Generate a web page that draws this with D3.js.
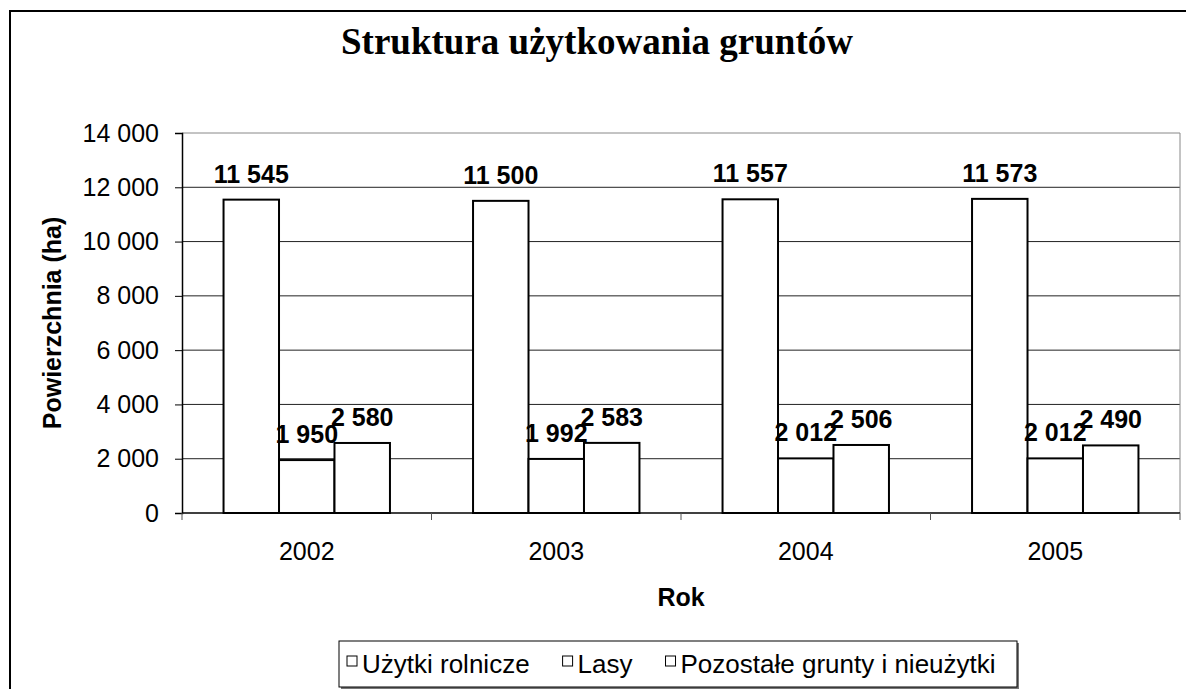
<!DOCTYPE html>
<html>
<head>
<meta charset="utf-8">
<script src="https://cdn.jsdelivr.net/npm/d3@7"></script>
<style>
  body { margin: 0; background: #fff; }
  text { font-family: "Liberation Sans", Arial, sans-serif; }
</style>
</head>
<body>
<div id="canvas"></div>
<script>
const years = ["2002", "2003", "2004", "2005"];
const seriesNames = ["Użytki rolnicze", "Lasy", "Pozostałe grunty i nieużytki"];
const uzytki = [11545, 11500, 11557, 11573];
const lasy = [1950, 1992, 2012, 2012];
const pozostale = [2580, 2583, 2506, 2490];
const yTicks = [0, 2000, 4000, 6000, 8000, 10000, 12000, 14000];

const seriesValues = [uzytki, lasy, pozostale];

const width = 1186, height = 689;
const svg = d3.select("#canvas").append("svg")
            .attr("width", width)
            .attr("height", height);

// outer frame (runs off the right and bottom edge)
svg.append("path")
   .attr("d", `M10,${height + 5} L10,11 L${width + 5},11`)
   .attr("fill", "none")
   .attr("stroke", "#000")
   .attr("stroke-width", 2);

svg.append("text")
   .attr("x", 597)
   .attr("y", 54)
   .attr("text-anchor", "middle")
   .style("font-family", "'Liberation Serif', 'Times New Roman', serif")
   .style("font-weight", "bold")
   .style("font-size", "37px")
   .text("Struktura użytkowania gruntów");

const margin = { top: 133, left: 182 };
const graphWidth = 1180 - margin.left;
const graphHeight = 513 - margin.top;

const graph = svg.append("g")
                .attr("transform", `translate(${margin.left},${margin.top})`);

const y = d3.scaleLinear()
            .domain([0, 14000])
            .range([graphHeight, 0]);

const x = d3.scaleBand()
            .domain(years)
            .range([0, graphWidth]);

const xInner = d3.scaleBand()
            .domain(d3.range(seriesNames.length))
            .range([x.bandwidth() * 0.1665, x.bandwidth() * 0.8335]);

const locale = d3.formatLocale({ decimal: ",", thousands: " ", grouping: [3], currency: ["", ""] });
const fmt = locale.format(",d");

// gridlines
graph.selectAll("line.grid")
    .data(yTicks.filter(t => t > 0))
    .enter().append("line")
    .attr("class", "grid")
    .attr("x1", 0)
    .attr("x2", graphWidth)
    .attr("y1", d => y(d))
    .attr("y2", d => y(d))
    .attr("stroke", d => d === 14000 ? "#888" : "#222")
    .attr("stroke-width", 1);

// right border of plot area
graph.append("line")
    .attr("x1", graphWidth).attr("x2", graphWidth)
    .attr("y1", 0).attr("y2", graphHeight)
    .attr("stroke", "#888");

// bars
const groups = graph.selectAll("g.year")
    .data(years)
    .enter().append("g")
    .attr("class", "year")
    .attr("transform", d => `translate(${x(d)},0)`);

groups.selectAll("rect")
    .data((d, i) => seriesValues.map((vals, s) => ({ s: s, v: vals[i] })))
    .enter().append("rect")
    .attr("x", d => xInner(d.s))
    .attr("width", xInner.bandwidth())
    .attr("y", d => y(d.v))
    .attr("height", d => graphHeight - y(d.v))
    .attr("fill", "#fff")
    .attr("stroke", "#000")
    .attr("stroke-width", 2);

groups.selectAll("text.lbl")
    .data((d, i) => seriesValues.map((vals, s) => ({ s: s, v: vals[i] })))
    .enter().append("text")
    .attr("class", "lbl")
    .attr("x", d => xInner(d.s) + xInner.bandwidth() / 2)
    .attr("y", d => y(d.v) - 17)
    .attr("text-anchor", "middle")
    .style("font-weight", "bold")
    .style("font-size", "25px")
    .text(d => fmt(d.v));

// axes
const yAxis = d3.axisLeft(y)
                .tickValues(yTicks)
                .tickSize(7)
                .tickPadding(16)
                .tickFormat(fmt);
const yAxisGroup = graph.append("g").call(yAxis);
yAxisGroup.select(".domain").attr("stroke", "#000").attr("stroke-width", 1.5);
yAxisGroup.selectAll(".tick line").attr("stroke", "#000");
yAxisGroup.selectAll(".tick text")
    .style("font-size", "25px")
    .style("font-family", "'Liberation Sans', Arial, sans-serif")
    .attr("fill", "#000");

const xAxisGroup = graph.append("g")
                        .attr("transform", `translate(0,${graphHeight})`);
xAxisGroup.append("line")
    .attr("x1", 0).attr("x2", graphWidth)
    .attr("stroke", "#000").attr("stroke-width", 1.5);
xAxisGroup.selectAll("line.tk")
    .data(years.concat(["end"]))
    .enter().append("line")
    .attr("class", "tk")
    .attr("x1", (d, i) => i * x.step())
    .attr("x2", (d, i) => i * x.step())
    .attr("y1", 0).attr("y2", 7)
    .attr("stroke", "#555");
xAxisGroup.selectAll("text")
    .data(years)
    .enter().append("text")
    .attr("x", d => x(d) + x.bandwidth() / 2)
    .attr("y", 47)
    .attr("text-anchor", "middle")
    .style("font-size", "25px")
    .text(d => d);

// axis titles
svg.append("text")
   .attr("x", margin.left + graphWidth / 2)
   .attr("y", 606)
   .attr("text-anchor", "middle")
   .style("font-weight", "bold")
   .style("font-size", "25px")
   .text("Rok");

svg.append("text")
   .attr("transform", `translate(61,${margin.top + graphHeight / 2}) rotate(-90)`)
   .attr("text-anchor", "middle")
   .style("font-weight", "bold")
   .style("font-size", "25px")
   .text("Powierzchnia (ha)");

// legend
const legend = svg.append("g");
legend.append("rect")
    .attr("x", 341).attr("y", 643)
    .attr("width", 678).attr("height", 46)
    .attr("fill", "#777");
legend.append("rect")
    .attr("x", 339).attr("y", 641)
    .attr("width", 678).attr("height", 46)
    .attr("fill", "#fff")
    .attr("stroke", "#000")
    .attr("stroke-width", 1);

let lx = 347;
seriesNames.forEach((name, i) => {
    legend.append("rect")
        .attr("x", lx).attr("y", 656)
        .attr("width", 10).attr("height", 10)
        .attr("fill", "#fff")
        .attr("stroke", "#000")
        .attr("stroke-width", 1);
    const t = legend.append("text")
        .attr("x", lx + 15)
        .attr("y", 673)
        .style("font-size", "26px")
        .text(name);
    lx += 15 + t.node().getComputedTextLength() + 33;
});
</script>
</body>
</html>
